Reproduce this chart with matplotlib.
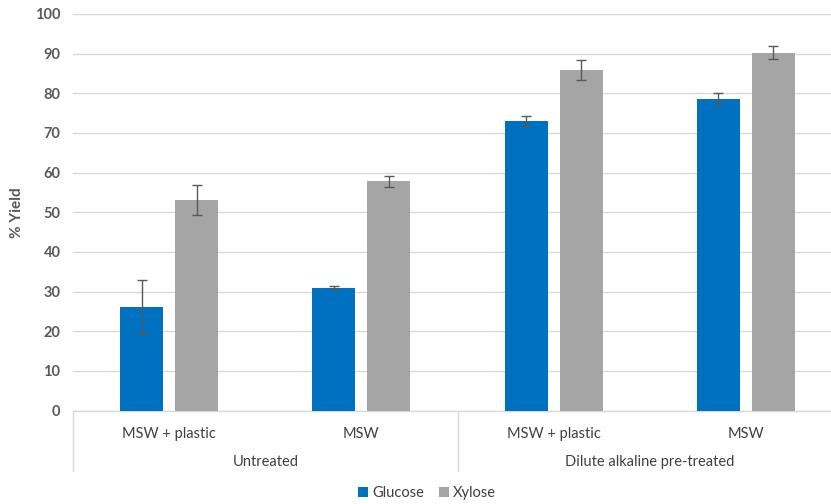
import matplotlib
matplotlib.use("Agg")
import matplotlib.pyplot as plt
from matplotlib.patches import Patch
import numpy as np

plt.rcParams['font.family'] = ['Lato', 'DejaVu Sans']

# Data
samples = ["MSW + plastic", "MSW", "MSW + plastic", "MSW"]
treatments = ["Untreated", "Dilute alkaline pre-treated"]
glucose = [26.0, 31.0, 72.9, 78.5]
glucose_err = [6.8, 0.3, 1.5, 1.5]
xylose = [53.1, 57.8, 85.8, 90.2]
xylose_err = [3.8, 1.4, 2.5, 1.65]
y_ticks = [0, 10, 20, 30, 40, 50, 60, 70, 80, 90, 100]

GLUCOSE_COLOR = "#0070C0"
XYLOSE_COLOR = "#A5A5A5"
TEXT_COLOR = "#595959"
GRID_COLOR = "#D9D9D9"

fig = plt.figure(figsize=(8.31, 5.04), dpi=100)
ax = fig.add_axes([73 / 831, (504 - 410.5) / 504, 769 / 831, 396.5 / 504])

x = np.arange(len(samples))
bw = 0.224
off = 0.143
ax.bar(x - off, glucose, bw, color=GLUCOSE_COLOR, zorder=3)
ax.bar(x + off, xylose, bw, color=XYLOSE_COLOR, zorder=3)
ax.errorbar(x - off, glucose, yerr=glucose_err, fmt="none", ecolor=TEXT_COLOR,
            elinewidth=1.0, capsize=3.5, capthick=1.0, zorder=4)
ax.errorbar(x + off, xylose, yerr=xylose_err, fmt="none", ecolor=TEXT_COLOR,
            elinewidth=1.0, capsize=3.5, capthick=1.0, zorder=4)

ax.set_xlim(-0.5, len(samples) - 0.5)
ax.set_ylim(0, 100)
ax.set_yticks(y_ticks)
ax.yaxis.grid(True, color=GRID_COLOR, linewidth=1.0, zorder=0)
ax.set_axisbelow(True)
for s in ["top", "right", "left"]:
    ax.spines[s].set_visible(False)
ax.spines["bottom"].set_color(GRID_COLOR)
ax.spines["bottom"].set_linewidth(1.0)
ax.tick_params(axis="y", length=0, pad=9, labelsize=10.5, labelcolor=TEXT_COLOR)
for lbl in ax.get_yticklabels():
    lbl.set_fontweight("bold")
ax.set_ylabel("% Yield", fontsize=11, fontweight="bold", color=TEXT_COLOR)
ax.yaxis.set_label_coords(-0.064, 0.5)

# Two-tier category axis
ax.set_xticks(x)
ax.set_xticklabels(samples, fontsize=10.5, color="#404040")
ax.tick_params(axis="x", length=0, pad=12)

trans = ax.get_xaxis_transform()
axis_h = 396.5
for xv in [-0.5, 1.5, 3.5]:
    ax.plot([xv, xv], [0, -60.5 / axis_h], transform=trans, color=GRID_COLOR,
            linewidth=1.0, clip_on=False)
for i, t in enumerate(treatments):
    ax.text(2 * i + 0.5, -(462 - 410.5) / axis_h, t, transform=trans,
            ha="center", va="center", fontsize=10.5, color="#404040")

handles = [Patch(facecolor=GLUCOSE_COLOR, label="Glucose"),
           Patch(facecolor=XYLOSE_COLOR, label="Xylose")]
fig.legend(handles=handles, loc="center", bbox_to_anchor=(427 / 831, 1 - 493 / 504),
           ncol=2, frameon=False, fontsize=10.5, handlelength=0.7, handleheight=0.7,
           handletextpad=0.3, columnspacing=1.0, labelcolor="#404040")

fig.savefig("out.png", dpi=100)
